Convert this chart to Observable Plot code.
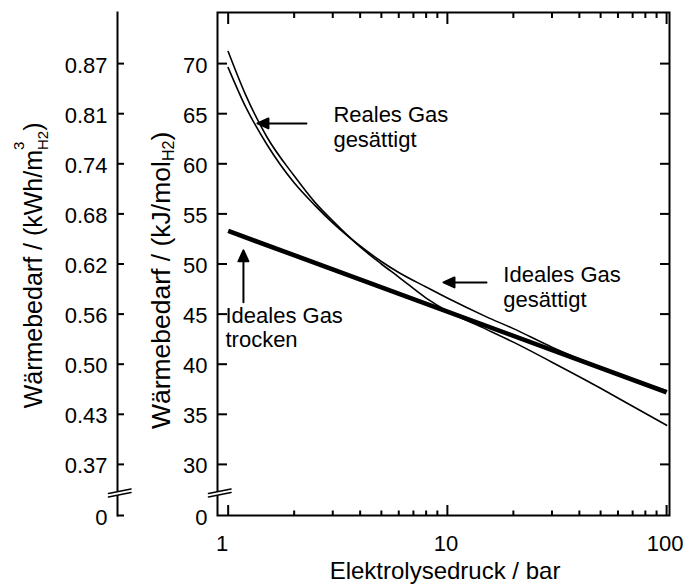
<!DOCTYPE html>
<html><head><meta charset="utf-8">
<script src="https://cdn.jsdelivr.net/npm/d3@7"></script>
<script src="https://cdn.jsdelivr.net/npm/@observablehq/plot@0.6"></script>
<style>
html,body{margin:0;padding:0;background:#fff;}
</style>
</head><body>
<div id="chart"></div>
<script>
// ---------- data ----------
const pressure = [1, 1.2, 1.5, 2, 2.5, 3, 4, 5, 6, 8, 10, 15, 20, 30, 50, 70, 100];
const realGasSaturated  = [71.2, 66.9, 62.7, 58.8, 56.1, 54.3, 51.7, 50.0, 48.7, 46.6, 45.3, 43.5, 42.2, 40.2, 37.6, 35.8, 33.9];
const idealGasSaturated = [69.6, 65.7, 61.95, 58.1, 55.8, 54.1, 51.8, 50.25, 49.15, 47.7, 46.6, 44.75, 43.55, 41.7, 39.7, 38.5, 37.35];
const pressureDry = [1, 10, 100];
const idealGasDry = [53.3, 45.25, 37.2];

// axes
const yTicks = [30, 35, 40, 45, 50, 55, 60, 65, 70];
const yTickLabels = ["30", "35", "40", "45", "50", "55", "60", "65", "70"];
const ySecondaryTickLabels = ["0.37", "0.43", "0.50", "0.56", "0.62", "0.68", "0.74", "0.81", "0.87"];
const yZeroValue = 24.9;   // bottom of the broken axis, labelled "0"
const yTopValue = 75.1;
const yBreakValue = 27.1;
const zeroLabel = "0";
const xDomain = [0.894, 103.1];
const xMajorTicks = [1, 10, 100];
const xMinorTicks = [2, 3, 4, 5, 6, 7, 8, 9, 20, 30, 40, 50, 60, 70, 80, 90];
const xTickLabels = ["1", "10", "100"];

const xTitle = "Elektrolysedruck / bar";
const yTitleMain = ["Wärmebedarf / (kJ/mol", "H2", ")"];
const yTitleSecondary = ["Wärmebedarf / (kWh/m", "3", "H2", ")"];

const annotationLabels = ["Reales Gas\ngesättigt", "Ideales Gas\ngesättigt", "Ideales Gas\ntrocken"];
const annotationX = [3.02, 18.0, 0.972];
const annotationY = [65.85, 49.88, 45.84];

const arrowTipX = [1.36, 9.6, 1.174];
const arrowTipY = [64.03, 48.16, 51.36];
const arrowLength = [49, 43, 52];
const arrowRotate = [-90, -90, 0];

// ---------- build ----------
const series = (xs, ys) => xs.map((p, i) => ({p, v: ys[i]}));
const mainLabelOf = new Map([[yZeroValue, zeroLabel], ...yTicks.map((t, i) => [t, yTickLabels[i]])]);
const secLabelOf = new Map([[yZeroValue, zeroLabel], ...yTicks.map((t, i) => [t, ySecondaryTickLabels[i]])]);
const xLabelOf = new Map(xMajorTicks.map((t, i) => [t, xTickLabels[i]]));

const filledArrow = {
  draw(c, l) {
    const h = 11, w = 5;
    c.moveTo(0, 0);
    c.lineTo(0, -l + h);
    c.moveTo(0, -l);
    c.lineTo(-w, -l + h);
    c.lineTo(w, -l + h);
    c.closePath();
  }
};
const breakFill = {draw(c) { c.moveTo(-9, 0); c.lineTo(13.5, -4.5); c.lineTo(13.5, -1); c.lineTo(-9, 3.5); c.closePath(); }};
const breakLines = {draw(c) { c.moveTo(-9, 0); c.lineTo(13.5, -4.5); c.moveTo(-9, 3.5); c.lineTo(13.5, -1); }};

const secOffset = -100;
const fs = 22;

const marks = [
  Plot.frame({strokeWidth: 2}),
  Plot.frame({anchor: "left", dx: secOffset, strokeWidth: 2}),
  // tick marks (inward)
  Plot.axisY({anchor: "left", ticks: yTicks, tickSize: -10, fill: "none", strokeWidth: 2, label: null}),
  Plot.axisY({anchor: "right", ticks: yTicks, tickSize: -10, fill: "none", strokeWidth: 2, label: null}),
  Plot.axisY({anchor: "left", ticks: [yZeroValue, ...yTicks], tickSize: -7, dx: secOffset, fill: "none", strokeWidth: 2, label: null}),
  Plot.axisX({anchor: "bottom", ticks: xMajorTicks, tickSize: -10, fill: "none", strokeWidth: 2, label: null}),
  Plot.axisX({anchor: "bottom", ticks: xMinorTicks, tickSize: -4.5, fill: "none", strokeWidth: 2, label: null}),
  Plot.axisX({anchor: "top", ticks: xMajorTicks, tickSize: -11, fill: "none", strokeWidth: 2, label: null}),
  Plot.axisX({anchor: "top", ticks: xMinorTicks, tickSize: -5, fill: "none", strokeWidth: 2, label: null}),
  // tick labels
  Plot.axisY({anchor: "left", ticks: [yZeroValue, ...yTicks], tickFormat: d => mainLabelOf.get(d), tickSize: 0, tickPadding: 10, dy: 2, fontSize: fs, label: null}),
  Plot.axisY({anchor: "left", ticks: [yZeroValue, ...yTicks], tickFormat: d => secLabelOf.get(d), tickSize: 0, tickPadding: 10, dx: secOffset, dy: 2, fontSize: fs, label: null}),
  Plot.axisX({anchor: "bottom", ticks: [xMajorTicks[0]], tickFormat: d => xLabelOf.get(d), tickSize: 0, tickPadding: 20, dx: -6, fontSize: fs, label: null}),
  Plot.axisX({anchor: "bottom", ticks: xMajorTicks.slice(1), tickFormat: d => xLabelOf.get(d), tickSize: 0, tickPadding: 20, dx: -1.5, fontSize: fs, label: null}),
  // axis breaks
  Plot.vector([yBreakValue], {y: d => d, frameAnchor: "left", length: 1, rotate: 0, anchor: "start", shape: breakFill, fill: "white", stroke: "none"}),
  Plot.vector([yBreakValue], {y: d => d, frameAnchor: "left", length: 1, rotate: 0, anchor: "start", shape: breakLines, stroke: "black", strokeWidth: 1.6}),
  Plot.vector([yBreakValue], {y: d => d, frameAnchor: "left", dx: secOffset, length: 1, rotate: 0, anchor: "start", shape: breakFill, fill: "white", stroke: "none"}),
  Plot.vector([yBreakValue], {y: d => d, frameAnchor: "left", dx: secOffset, length: 1, rotate: 0, anchor: "start", shape: breakLines, stroke: "black", strokeWidth: 1.6}),
  // curves
  Plot.line(series(pressureDry, idealGasDry), {x: "p", y: "v", stroke: "black", strokeWidth: 4.6, strokeLinecap: "butt"}),
  Plot.line(series(pressure, idealGasSaturated), {x: "p", y: "v", curve: "monotone-x", stroke: "black", strokeWidth: 1.6}),
  Plot.line(series(pressure, realGasSaturated), {x: "p", y: "v", curve: "monotone-x", stroke: "black", strokeWidth: 1.6}),
  // annotations
  Plot.text(annotationLabels.map((t, i) => ({t, x: annotationX[i], y: annotationY[i]})), {x: "x", y: "y", text: "t", textAnchor: "start", lineAnchor: "top", lineHeight: 1.1, fontSize: fs, fill: "black"}),
  ...arrowTipX.map((x, i) => Plot.vector([{x, y: arrowTipY[i]}], {x: "x", y: "y", length: arrowLength[i], rotate: arrowRotate[i], anchor: "end", shape: filledArrow, fill: "black", stroke: "black", strokeWidth: 2})),
  // titles
  Plot.text([xTitle], {text: d => d, frameAnchor: "bottom", dy: 63, dx: 1.5, lineAnchor: "bottom", fontSize: 24, fill: "black"}),
  Plot.text([yTitleMain.join("")], {text: d => d, y: () => 48.36, frameAnchor: "left", dx: -48, rotate: -90, textAnchor: "middle", lineAnchor: "bottom", fontSize: 26.5, fill: "black"}),
  Plot.text([yTitleSecondary.join("")], {text: d => d, y: () => 49.86, frameAnchor: "left", dx: -176, rotate: -90, textAnchor: "middle", lineAnchor: "bottom", fontSize: 25, fill: "black"})
];

const svg = Plot.plot({
  width: 686,
  height: 585,
  marginLeft: 217,
  marginRight: 17,
  marginTop: 12,
  marginBottom: 70,
  x: {type: "log", domain: xDomain},
  y: {domain: [yZeroValue, yTopValue]},
  style: {fontFamily: '"Liberation Sans", Arial, Helvetica, sans-serif', fontSize: "22px", color: "black", background: "white"},
  marks
});

function setRich(root, plain, parts) {
  d3.select(root).selectAll("text").filter(function () { return this.textContent === plain; }).each(function () {
    const t = d3.select(this);
    t.text(null);
    for (const p of parts) {
      const s = t.append("tspan").text(p.text);
      if (p.dy) s.attr("dy", p.dy);
      if (p.dx) s.attr("dx", p.dx);
      if (p.size) s.attr("font-size", p.size);
    }
  });
}
setRich(svg, yTitleMain.join(""), [
  {text: yTitleMain[0]},
  {text: yTitleMain[1], size: 16, dy: 4},
  {text: yTitleMain[2], size: 26.5, dy: -4}
]);
setRich(svg, yTitleSecondary.join(""), [
  {text: yTitleSecondary[0]},
  {text: yTitleSecondary[1], size: 15, dy: -18},
  {text: yTitleSecondary[2], size: 15, dy: 24, dx: -8.3},
  {text: yTitleSecondary[3], size: 25, dy: -6}
]);

document.getElementById("chart").appendChild(svg);
</script>
</body></html>
